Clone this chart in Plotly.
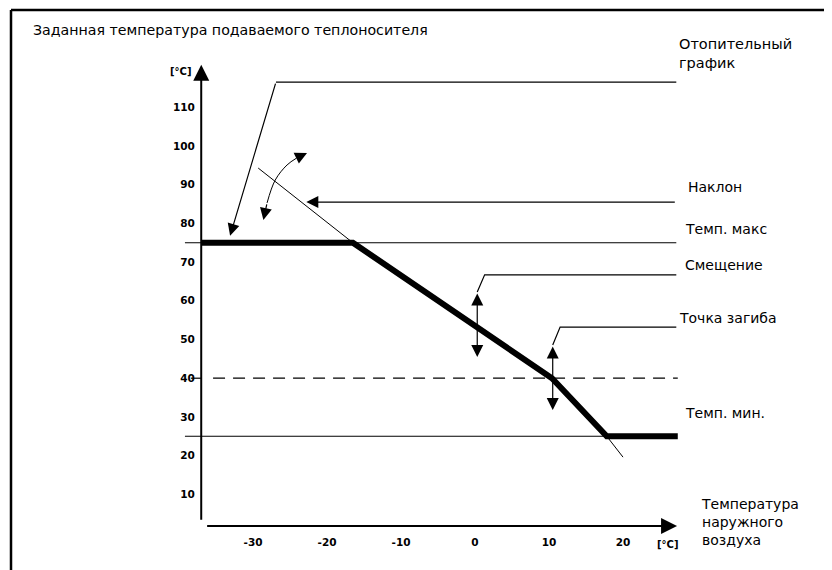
import plotly.graph_objects as go

# page is 832x570; the browser body adds an 8px margin, so the figure is drawn 8px smaller
OFF = 8
W, H = 832 - OFF, 570 - OFF

# ---- data (degrees C) ----
y_ticks = [10, 20, 30, 40, 50, 60, 70, 80, 90, 100, 110]
x_ticks = [-30, -20, -10, 0, 10, 20]
curve_x = [-37.0, -16.5, 10.4, 17.8, 27.4]      # heating curve (outdoor temp)
curve_y = [75, 75, 40, 25, 25]                  # supply temperature
t_max = 75
t_min = 25
knee_temp = 40
slope_up_x = [-29.3, -16.5]
slope_up_y = [94.3, 75]
slope_low_x = [17.8, 20.0]
slope_low_y = [25, 19.6]
arc_x = [-28.1, -27.0, -25.4, -24.1]
arc_y = [85.3, 91.2, 95.1, 96.9]
offset_x = 0.3
offset_y = [62.3, 45.5]
knee_x = 10.5
knee_y = [48.6, 31.8]
axis_x0, axis_y0 = -37.0, 1.8
axis_ymax, axis_xmax = 121.0, 27.3

line_left = -39.2
line_right = 27.2

# axis ranges so that the plot area covers the whole figure
XR = [-63.11, 48.24]
YR = [-9.56, 135.66]

fig = go.Figure()

def add_line(x, y, width=1.2, dash=None, shape='linear'):
    fig.add_trace(go.Scatter(x=x, y=y, mode='lines', hoverinfo='skip',
                             line=dict(color='black', width=width, dash=dash, shape=shape),
                             showlegend=False, cliponaxis=False))

# reference lines
add_line([line_left, line_right], [t_max, t_max], 1.2)
add_line([line_left, curve_x[3]], [t_min, t_min], 1.2)
add_line([line_left + 0.8, axis_x0], [knee_temp, knee_temp], 1.2)
add_line([axis_x0 + 1.6, curve_x[-1]], [knee_temp, knee_temp], 1.3, dash='12px,8px')
# slope thin line extensions
add_line(slope_up_x, slope_up_y, 1.0)
add_line(slope_low_x, slope_low_y, 1.0)
# heating curve
add_line(curve_x, curve_y, 6)
# curved arrow arc
add_line(arc_x, arc_y, 1.0, shape='spline')
# leader lines
add_line([line_right, -26.9], [116.5, 116.5], 1.2)
add_line([line_right, 1.3, offset_x], [66.7, 66.7, offset_y[0]], 1.2)
add_line([line_right, 11.5, knee_x], [53.2, 53.2, knee_y[0]], 1.2)
# axes lines
add_line([axis_x0, axis_x0], [3.4, axis_ymax - 2], 2)
add_line([-36.2, axis_xmax - 2], [axis_y0, axis_y0], 2)

ann = []
def arrow(hx, hy, tx, ty, w=1.2, size=2.2, side='end', head=2):
    ann.append(dict(x=hx, y=hy, ax=tx, ay=ty, xref='x', yref='y', axref='x', ayref='y',
                    showarrow=True, arrowhead=head, arrowsize=size, arrowwidth=w,
                    arrowcolor='black', arrowside=side, text=''))

# axis arrow heads
arrow(axis_x0, axis_ymax, axis_x0, axis_ymax - 3, w=2, size=1.6)
arrow(axis_xmax, axis_y0, axis_xmax - 3, axis_y0, w=2, size=1.6)
# leaders
arrow(-33.1, 76.8, -26.9, 116.5, w=1.2, size=2.0)
arrow(-22.8, 85.5, line_right, 85.5, w=1.2, size=2.0)
arrow(offset_x, offset_y[1], offset_x, offset_y[0], w=1.2, size=2.0, side='end+start')
arrow(knee_x, knee_y[1], knee_x, knee_y[0], w=1.2, size=2.0, side='end+start')
# curved arrow heads
arrow(-28.6, 80.9, -28.1, 85.3, w=1.2, size=2.0)
arrow(-22.7, 98.2, -24.1, 96.9, w=1.2, size=2.0)

FONT = 'DejaVu Sans'
def text(px, py, s, size=14, anchor='left', bold=False):
    ann.append(dict(x=(px - OFF) / W, y=1 - (py - OFF) / H, xref='paper', yref='paper', text=s,
                    showarrow=False, xanchor=anchor, yanchor='middle', align='left',
                    font=dict(family=FONT, size=size, color='black',
                              weight='bold' if bold else 'normal')))

text(31, 30, 'Заданная температура подаваемого теплоносителя', size=14.2)
text(677, 54, 'Отопительный<br>график', size=14.5)
text(686, 187, 'Наклон')
text(683, 229, 'Темп. макс')
text(683, 265, 'Смещение')
text(677, 318, 'Точка загиба')
text(683, 413, 'Темп. мин.')
text(699, 522, 'Температура<br>наружного<br>воздуха')
text(180, 71, '[°C]', size=10, anchor='center', bold=True)
text(667, 544, '[°C]', size=10, anchor='center', bold=True)

shapes = [
    dict(type='line', xref='paper', yref='paper', x0=(11 - OFF) / W, x1=1.01,
         y0=1 - (10 - OFF) / H, y1=1 - (10 - OFF) / H, line=dict(color='black', width=2.5)),
    dict(type='line', xref='paper', yref='paper', x0=(11 - OFF) / W, x1=(11 - OFF) / W,
         y0=1 - (10 - OFF) / H, y1=-0.01, line=dict(color='black', width=2.5)),
]

fig.update_layout(
    width=W, height=H, margin=dict(l=0, r=0, t=0, b=0),
    paper_bgcolor='white', plot_bgcolor='white',
    annotations=ann, shapes=shapes, showlegend=False,
    xaxis=dict(range=XR, domain=[0, 1], anchor='free', position=1 - (526 - OFF) / H,
               tickvals=x_ticks, ticktext=[str(v) for v in x_ticks],
               showgrid=False, zeroline=False, showline=False, ticks='outside',
               ticklen=6, tickcolor='rgba(0,0,0,0)',
               tickfont=dict(family=FONT, size=10.5, color='black', weight='bold'),
               fixedrange=True),
    yaxis=dict(range=YR, domain=[0, 1], anchor='free', position=(201 - OFF) / W,
               tickvals=y_ticks, ticktext=[str(v) for v in y_ticks],
               showgrid=False, zeroline=False, showline=False, ticks='outside',
               ticklen=4, tickcolor='rgba(0,0,0,0)',
               tickfont=dict(family=FONT, size=10.5, color='black', weight='bold'),
               fixedrange=True),
)

fig.write_html('out.html')
